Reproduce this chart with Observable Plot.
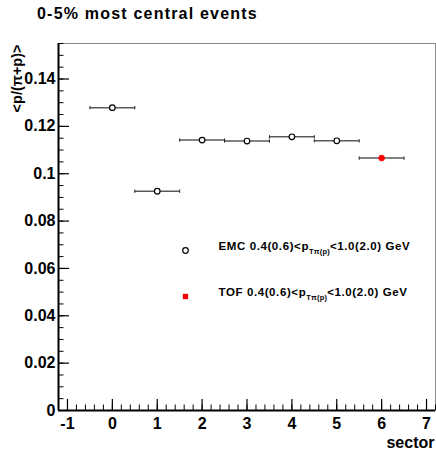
<!DOCTYPE html>
<html><head><meta charset="utf-8">
<script src="https://cdn.jsdelivr.net/npm/d3@7"></script>
<script src="https://cdn.jsdelivr.net/npm/@observablehq/plot@0.6"></script>
<style>
body{margin:0;background:#fff;font-family:"Liberation Sans",Arial,sans-serif;}
#title{position:relative;height:30px;width:436px;}
#title span{position:absolute;left:37px;top:6px;font-weight:bold;font-size:16px;letter-spacing:1.2px;line-height:16px;white-space:nowrap;color:#000;}
#chart svg{display:block;overflow:visible;}
</style></head><body>
<div id="title"><span>0-5% most central events</span></div>
<div id="chart"></div>
<script>
// ---- data ----
const emcSectors = [0, 1, 2, 3, 4, 5];
const emcValues  = [0.1279, 0.0926, 0.1142, 0.1138, 0.1156, 0.1139];
const tofSectors = [6];
const tofValues  = [0.1066];
const sectorHalfWidth = 0.5;
const xDomain = [-1.2, 7.2];
const yDomain = [0, 0.155];
const xTicks = [-1, 0, 1, 2, 3, 4, 5, 6, 7];
const xTickLabels = ["-1", "0", "1", "2", "3", "4", "5", "6", "7"];
const yTicks = [0, 0.02, 0.04, 0.06, 0.08, 0.1, 0.12, 0.14];
const yTickLabels = ["0", "0.02", "0.04", "0.06", "0.08", "0.1", "0.12", "0.14"];
const xLabel = "sector";
const yLabel = "<p/(\u03c0+p)>";
const legendPre  = ["EMC 0.4(0.6)<p", "TOF 0.4(0.6)<p"];
const legendSub  = ["T\u03c0(p)", "T\u03c0(p)"];
const legendPost = ["<1.0(2.0) GeV", "<1.0(2.0) GeV"];

const emc = emcSectors.map((x, i) => ({x, y: emcValues[i]}));
const tof = tofSectors.map((x, i) => ({x, y: tofValues[i]}));
const all = emc.concat(tof);
const xMinor = d3.range(Math.round(xDomain[0] * 5), Math.round(xDomain[1] * 5) + 1).map(k => k / 5);
const yMinor = d3.range(0, Math.round(yDomain[1] * 200) + 1).map(k => k / 200);
const xFmt = new Map(xTicks.map((t, i) => [t, xTickLabels[i]]));
const yFmt = new Map(yTicks.map((t, i) => [t, yTickLabels[i]]));
const legendFull = legendPre.map((p, i) => p + legendSub[i] + legendPost[i]);

const W = 436, H = 421, mL = 58, mR = 1, mT = 13, mB = 41;
const iW = W - mL - mR, iH = H - mT - mB;
const font = '"Liberation Sans", Arial, sans-serif';
const capEps = 0.0007;

const chart = Plot.plot({
  width: W, height: H,
  marginLeft: mL, marginRight: mR, marginTop: mT, marginBottom: mB,
  style: {fontFamily: font, fontWeight: "bold", fontSize: "16px", color: "#000", background: "#fff"},
  x: {domain: xDomain},
  y: {domain: yDomain},
  marks: [
    Plot.frame({stroke: "#8a8a8a", strokeWidth: 1}),
    Plot.ruleX([xDomain[0]], {stroke: "#000", strokeWidth: 2}),
    Plot.ruleY([yDomain[0]], {stroke: "#000", strokeWidth: 2}),
    Plot.tickX(xTicks, {x: d => d, insetTop: iH - 11, stroke: "#000", strokeWidth: 1.2}),
    Plot.tickX(xMinor, {x: d => d, insetTop: iH - 5.5, stroke: "#000", strokeWidth: 1}),
    Plot.tickY(yTicks, {y: d => d, insetRight: iW - 11, stroke: "#000", strokeWidth: 1.2}),
    Plot.tickY(yMinor, {y: d => d, insetRight: iW - 5.5, stroke: "#000", strokeWidth: 1}),
    Plot.axisX(xTicks, {tickSize: 0, tickPadding: 7, label: null, fontSize: 16, fontWeight: "bold", tickFormat: d => xFmt.get(d)}),
    Plot.axisY(yTicks, {tickSize: 0, tickPadding: 3, label: null, fontSize: 16, fontWeight: "bold", tickFormat: d => yFmt.get(d)}),
    Plot.text([xLabel], {frameAnchor: "bottom-right", text: d => d, textAnchor: "end", lineAnchor: "bottom", dx: -1, dy: 37, fontSize: 16, fontWeight: "bold"}),
    Plot.text([yLabel], {frameAnchor: "top-left", text: d => d, rotate: -90, textAnchor: "end", lineAnchor: "bottom", dx: -37, dy: 1, fontSize: 14.5, fontWeight: "bold"}),
    // error bars
    Plot.link(all, {x1: d => d.x - sectorHalfWidth, x2: d => d.x + sectorHalfWidth, y1: "y", y2: "y", stroke: "#5a5a5a", strokeWidth: 1.5}),
    Plot.link(all, {x1: d => d.x - sectorHalfWidth, x2: d => d.x - sectorHalfWidth, y1: d => d.y - capEps, y2: d => d.y + capEps, stroke: "#222", strokeWidth: 1}),
    Plot.link(all, {x1: d => d.x + sectorHalfWidth, x2: d => d.x + sectorHalfWidth, y1: d => d.y - capEps, y2: d => d.y + capEps, stroke: "#222", strokeWidth: 1}),
    Plot.dot(emc, {x: "x", y: "y", r: 2.8, stroke: "#000", fill: "#fff", strokeWidth: 1.2}),
    Plot.dot(tof, {x: "x", y: "y", r: 3, fill: "#ff0000", stroke: "#ff0000", strokeWidth: 0.5}),
    // legend
    Plot.dot([legendFull[0]], {frameAnchor: "top-left", dx: 127, dy: 207, r: 2.8, stroke: "#000", fill: "#fff", strokeWidth: 1.2}),
    Plot.dot([legendFull[1]], {frameAnchor: "top-left", dx: 127, dy: 253, r: 3, symbol: "square", fill: "#ff0000"}),
    Plot.text([legendFull[0]], {frameAnchor: "top-left", text: d => d, dx: 160, dy: 203.3, textAnchor: "start", lineAnchor: "middle", fontSize: 11.5, fontWeight: "bold"}),
    Plot.text([legendFull[1]], {frameAnchor: "top-left", text: d => d, dx: 160, dy: 249.3, textAnchor: "start", lineAnchor: "middle", fontSize: 11.5, fontWeight: "bold"})
  ]
});
document.getElementById("chart").appendChild(chart);

// build subscripts inside the legend labels
d3.select(chart).selectAll("text").each(function() {
  const i = legendFull.indexOf(this.textContent);
  if (i < 0) return;
  const el = d3.select(this);
  el.text(null).style("letter-spacing", "0.6px");
  el.append("tspan").text(legendPre[i]);
  el.append("tspan").attr("dy", 4).style("font-size", "7.5px").style("letter-spacing", "0.2px").text(legendSub[i]);
  el.append("tspan").attr("dy", -4).text(legendPost[i]);
});
</script>
</body></html>
